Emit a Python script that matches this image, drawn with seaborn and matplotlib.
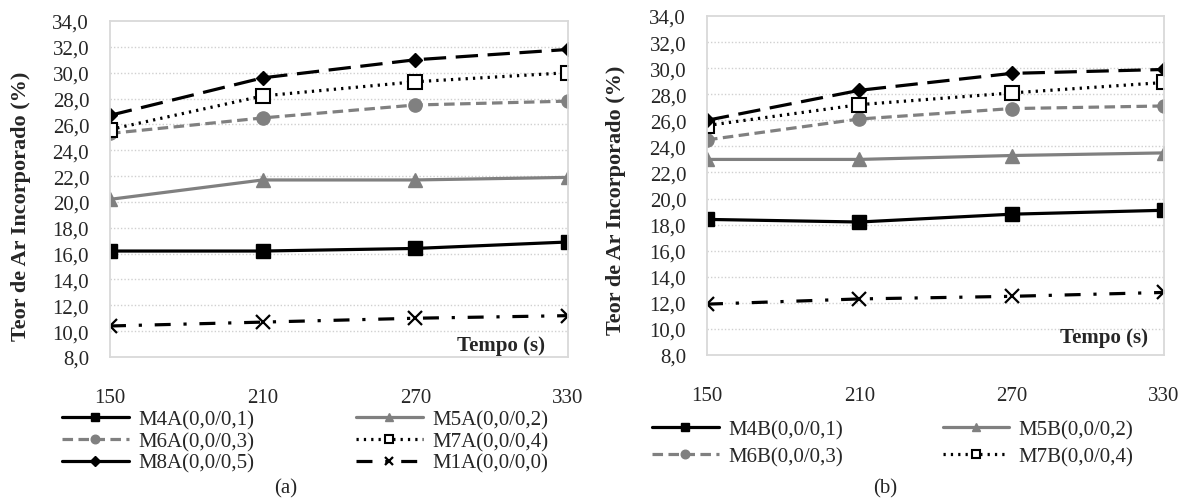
import matplotlib
matplotlib.use("Agg")
import matplotlib.pyplot as plt
from matplotlib.lines import Line2D
import seaborn as sns
import numpy as np

# ---- data ----
tempo = [150, 210, 270, 330]

# panel (a)
m4a = [16.2, 16.2, 16.4, 16.9]
m5a = [20.2, 21.7, 21.7, 21.9]
m6a = [25.3, 26.5, 27.5, 27.8]
m7a = [25.6, 28.2, 29.3, 30.0]
m8a = [26.7, 29.6, 31.0, 31.8]
m1a = [10.4, 10.7, 11.0, 11.2]

# panel (b)
m4b = [18.4, 18.2, 18.8, 19.1]
m5b = [23.0, 23.0, 23.3, 23.5]
m6b = [24.5, 26.1, 26.9, 27.1]
m7b = [25.6, 27.2, 28.1, 28.9]
m8b = [26.0, 28.3, 29.6, 29.9]
m1b = [11.9, 12.3, 12.5, 12.8]

labels_a = ["M4A(0,0/0,1)", "M5A(0,0/0,2)", "M6A(0,0/0,3)",
            "M7A(0,0/0,4)", "M8A(0,0/0,5)", "M1A(0,0/0,0)"]
labels_b = ["M4B(0,0/0,1)", "M5B(0,0/0,2)", "M6B(0,0/0,3)",
            "M7B(0,0/0,4)", "M8B(0,0/0,5)", "M1B(0,0/0,0)"]

yticks = np.arange(8, 34.1, 2)
ytick_labels = [f"{v:.1f}".replace(".", ",") for v in yticks]

sns.set_style("white")
plt.rcParams["font.family"] = ["Liberation Serif", "DejaVu Serif"]

GRAY = "#808080"
BLACK = "black"
LW = 2.3
styles = [
    dict(color=BLACK, linestyle="-", marker="s", markersize=9.5,
         markerfacecolor=BLACK, markeredgecolor=BLACK, markeredgewidth=1),
    dict(color=GRAY, linestyle="-", marker="^", markersize=9.5,
         markerfacecolor=GRAY, markeredgecolor=GRAY, markeredgewidth=1),
    dict(color=GRAY, linestyle=(0, (3.3, 1.7)), marker="o", markersize=9.5,
         markerfacecolor=GRAY, markeredgecolor=GRAY, markeredgewidth=1),
    dict(color=BLACK, linestyle=(0, (0.7, 1.6)), marker="s", markersize=9.5,
         markerfacecolor="white", markeredgecolor=BLACK, markeredgewidth=1.5),
    dict(color=BLACK, linestyle=(0, (7, 3)), marker="D", markersize=7.5,
         markerfacecolor=BLACK, markeredgecolor=BLACK, markeredgewidth=1),
    dict(color=BLACK, linestyle=(0, (5, 4, 1, 4)), marker="x", markersize=9.5,
         markerfacecolor=BLACK, markeredgecolor=BLACK, markeredgewidth=1.6),
]

fig = plt.figure(figsize=(11.88, 5.02), dpi=100)
ax_a = fig.add_axes([110/1188, 1-358/502, 458/1188, 336/502])
ax_b = fig.add_axes([707/1188, 1-356/502, 457/1188, 339/502])


def draw(ax, series, labels):
    for vals, lab, st in zip(series, labels, styles):
        sns.lineplot(x=tempo, y=vals, ax=ax, label=lab, legend=False,
                     linewidth=LW, **st)
    ax.set_xlim(150, 330)
    ax.set_ylim(8, 34)
    ax.set_xticks(tempo)
    ax.set_xticklabels([str(t) for t in tempo], fontsize=15)
    ax.set_yticks(yticks)
    ax.set_yticklabels(ytick_labels, fontsize=15)
    ax.tick_params(axis="y", length=0, pad=15)
    ax.tick_params(axis="x", length=4, color="#d9d9d9", width=1.2, pad=18)
    for g in yticks[1:-1]:
        ax.axhline(g, color="#d0d0d0", linestyle=(0, (1, 1.5)), linewidth=1, zorder=0)
    for sp in ax.spines.values():
        sp.set_visible(True)
        sp.set_color("#d9d9d9")
        sp.set_linewidth(1.3)
    ax.set_xlabel("")
    ax.set_ylabel("Teor de Ar Incorporado (%)", fontsize=16, fontweight="bold")


draw(ax_a, [m4a, m5a, m6a, m7a, m8a, m1a], labels_a)
draw(ax_b, [m4b, m5b, m6b, m7b, m8b, m1b], labels_b)

ax_a.yaxis.set_label_coords(-0.172, 0.45)
ax_b.yaxis.set_label_coords(-0.177, 0.46)

ax_a.text(0.95, 0.035, "Tempo (s)", transform=ax_a.transAxes, ha="right",
          va="center", fontsize=15, fontweight="bold")
ax_b.text(0.965, 0.053, "Tempo (s)", transform=ax_b.transAxes, ha="right",
          va="center", fontsize=15, fontweight="bold")

# legends
h_a, l_a = ax_a.get_legend_handles_labels()
# the long-dash series shows a solid sample in the reference legend
st8 = dict(styles[4])
st8["linestyle"] = "-"
h_a[4] = Line2D([], [], linewidth=LW, **st8)
order_a = [0, 2, 4, 1, 3, 5]
fig.legend([h_a[i] for i in order_a], [l_a[i] for i in order_a],
           loc="upper left", bbox_to_anchor=(62/1188, 1-411/502), ncol=2,
           frameon=False, fontsize=15, handlelength=3.2, handletextpad=0.45,
           columnspacing=4.9, labelspacing=0.1, borderpad=0, borderaxespad=0,
           markerscale=0.65)

h_b, l_b = ax_b.get_legend_handles_labels()
order_b = [0, 2, 1, 3]
fig.legend([h_b[i] for i in order_b], [l_b[i] for i in order_b],
           loc="upper left", bbox_to_anchor=(652/1188, 1-421/502), ncol=2,
           frameon=False, fontsize=15, handlelength=3.2, handletextpad=0.45,
           columnspacing=4.8, labelspacing=0.35, borderpad=0, borderaxespad=0,
           markerscale=0.65)

fig.text(286/1188, 1-489/502, "(a)", ha="center", va="center", fontsize=15)
fig.text(885/1188, 1-489/502, "(b)", ha="center", va="center", fontsize=15)

fig.savefig("out.png", dpi=100)
